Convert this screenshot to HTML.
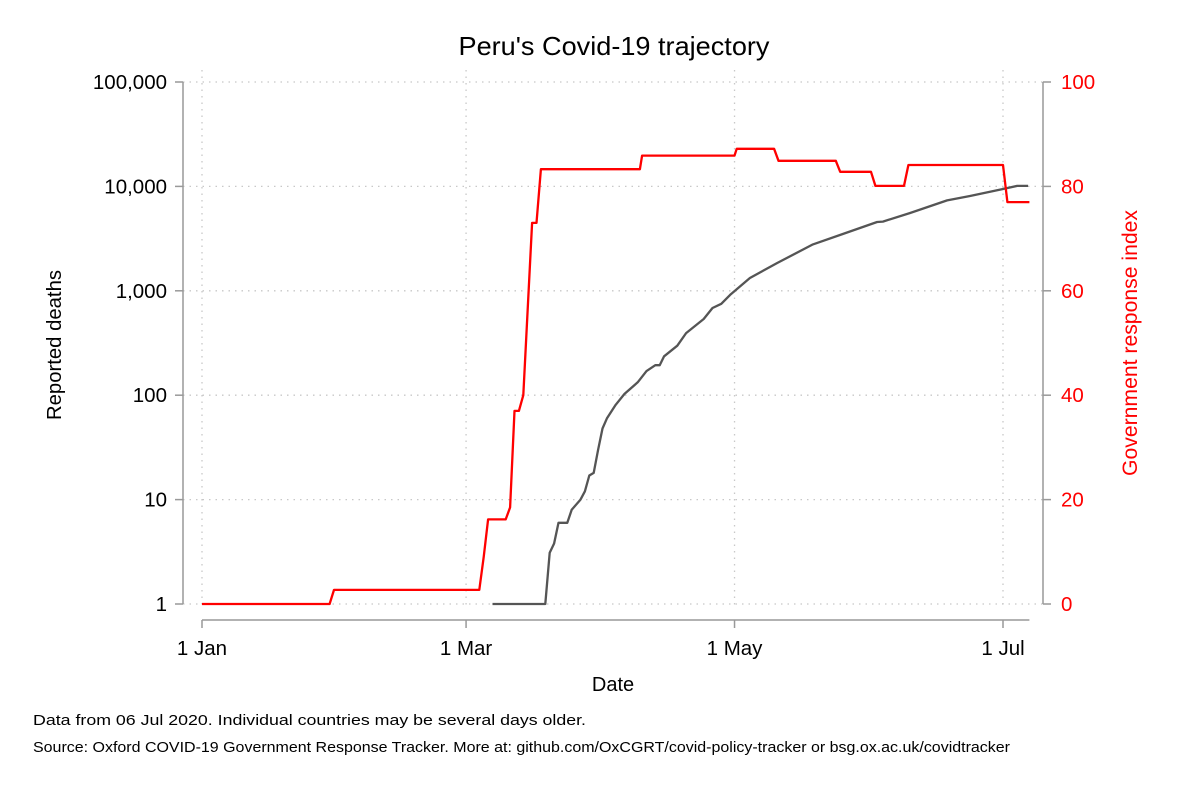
<!DOCTYPE html>
<html><head><meta charset="utf-8"><style>
body{margin:0;background:#fff;font-family:"Liberation Sans",Arial,sans-serif;}
svg text{font-family:"Liberation Sans",Arial,sans-serif;}
</style></head><body>
<svg id="chart" width="1184" height="789" xmlns="http://www.w3.org/2000/svg">
<rect width="1184" height="789" fill="#fff"/>
<text x="614" y="55" font-size="26" text-anchor="middle" fill="#000" textLength="311" lengthAdjust="spacingAndGlyphs">Peru's Covid-19 trajectory</text>
<g id="grid"></g>
<g id="axes"></g>
<g id="series"></g>
<text transform="translate(61,345) rotate(-90)" font-size="20" text-anchor="middle" fill="#000" textLength="150" lengthAdjust="spacingAndGlyphs">Reported deaths</text>
<text transform="translate(1137,343) rotate(-90)" font-size="21" text-anchor="middle" fill="#ff0000" textLength="266" lengthAdjust="spacingAndGlyphs">Government response index</text>
<text x="613" y="691" font-size="20" text-anchor="middle" fill="#000">Date</text>
<text x="33" y="725" font-size="15" fill="#000" textLength="553" lengthAdjust="spacingAndGlyphs">Data from 06 Jul 2020. Individual countries may be several days older.</text>
<text x="33" y="752" font-size="15" fill="#000" textLength="977" lengthAdjust="spacingAndGlyphs">Source: Oxford COVID-19 Government Response Tracker. More at: github.com/OxCGRT/covid-policy-tracker or bsg.ox.ac.uk/covidtracker</text>
</svg>
<script>
const xTickDays=[0,60,121,182];
const xTickLabels=["1 Jan","1 Mar","1 May","1 Jul"];
const yTickValues=[1,10,100,1000,10000,100000];
const yTickLabels=["1","10","100","1,000","10,000","100,000"];
const y2TickValues=[0,20,40,60,80,100];
const deathDays=[66,78,79,80,81,83,84,86,87,88,89,90,91,92,94,96,99,101,103,104,105,108,110,114,116,118,120,124.5,130.7,138.8,145.6,153.4,154.7,160.9,169.3,174.5,182,185.2,187.7];
const deathValues=[1,1,3.1,3.8,6,6,8,10,12,17,18,30,48,60,81,103,133,170,194,194,236,298,393,537,685,750,913,1327,1847,2780,3500,4560,4600,5560,7350,8090,9440,10100,10100];
const indexDays=[0,29,30,63,64,65,69,70,71,72,73,75,76,77,99.5,100,121,121.5,130,131,144,145,152,153,159.5,160.5,182,183,188];
const indexValues=[0,0,2.7,2.7,9,16.2,16.2,18.5,37,37,40,73,73,83.3,83.3,85.9,85.9,87.2,87.2,84.9,84.9,82.8,82.8,80.1,80.1,84.1,84.1,77,77];

const NS="http://www.w3.org/2000/svg";
const X0=202,PXD=801/182,YB=604,DEC=104.4,LX=183,RX=1043,AXY=620;
const xs=d=>X0+d*PXD;
const yLog=v=>YB-Math.log10(v)*DEC;
const yLin=v=>YB-v*5.22;
function mk(tag,attrs,parent){const e=document.createElementNS(NS,tag);for(const k in attrs)e.setAttribute(k,attrs[k]);parent.appendChild(e);return e;}
const grid=document.getElementById('grid'),axes=document.getElementById('axes'),series=document.getElementById('series');

yTickValues.forEach((v,i)=>{
  const y=yLog(v);
  const g=mk('line',{x1:LX,x2:RX,y1:y,y2:y,stroke:'#c8c8c8','stroke-width':1.3,'stroke-dasharray':'1.5,5'},grid);
  
  
  const t=mk('line',{x1:LX-8,x2:LX,y1:y,y2:y,stroke:'#999','stroke-width':1.5},axes);
  
  
  const l=mk('text',{x:LX-16,y:y+7,'font-size':20.5,'text-anchor':'end',fill:'#000'},axes);
  l.textContent=yTickLabels[i];
  
  
});
y2TickValues.forEach(v=>{
  const y=yLin(v);
  const t=mk('line',{x1:RX,x2:RX+8,y1:y,y2:y,stroke:'#999','stroke-width':1.5},axes);
  
  
  const l=mk('text',{x:RX+18,y:y+7,'font-size':20.5,fill:'#ff0000'},axes);
  l.textContent=String(v);
  
  
});
xTickDays.forEach((d,i)=>{
  const x=xs(d);
  const g=mk('line',{x1:x,x2:x,y1:70,y2:YB+4,stroke:'#c8c8c8','stroke-width':1.3,'stroke-dasharray':'1.5,5'},grid);
  
  
  const t=mk('line',{x1:x,x2:x,y1:AXY,y2:AXY+8,stroke:'#999','stroke-width':1.5},axes);
  
  
  const l=mk('text',{x:x,y:AXY+35,'font-size':20.5,'text-anchor':'middle',fill:'#000'},axes);
  l.textContent=xTickLabels[i];
  
  
});
const la=mk('line',{x1:LX,x2:LX,y1:yLog(100000),y2:YB,stroke:'#999','stroke-width':1.5},axes);


const ra=mk('line',{x1:RX,x2:RX,y1:yLin(100),y2:YB,stroke:'#999','stroke-width':1.5},axes);


const ba=mk('line',{x1:xs(0),x2:xs(188),y1:AXY,y2:AXY,stroke:'#999','stroke-width':1.5},axes);



const dp=mk('polyline',{points:deathDays.map((d,i)=>xs(d).toFixed(1)+','+yLog(deathValues[i]).toFixed(1)).join(' '),fill:'none',stroke:'#555','stroke-width':2.3,'stroke-linejoin':'round'},series);


const ip=mk('polyline',{points:indexDays.map((d,i)=>xs(d).toFixed(1)+','+yLin(indexValues[i]).toFixed(1)).join(' '),fill:'none',stroke:'#ff0000','stroke-width':2.3,'stroke-linejoin':'round'},series);


</script>
</body></html>
